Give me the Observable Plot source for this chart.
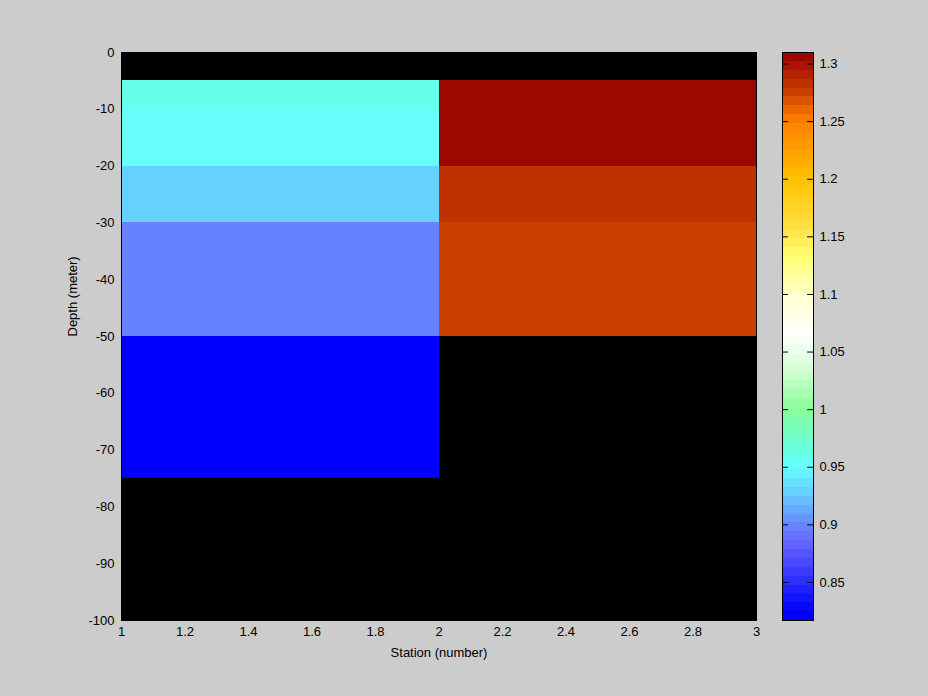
<!DOCTYPE html>
<html>
<head>
<meta charset="utf-8">
<script src="https://cdn.jsdelivr.net/npm/d3@7"></script>
<script src="https://cdn.jsdelivr.net/npm/@observablehq/plot@0.6"></script>
<style>
  html, body { margin: 0; padding: 0; background: #cccccc; }
  #wrap { position: relative; width: 928px; height: 696px; background: #cccccc; overflow: hidden; }
  #wrap > svg { position: absolute; top: 0; }
</style>
</head>
<body>
<div id="wrap"></div>
<script>
// ---- Data ----
// Station 1 (x from 1 to 2)
const st1Top = [-5, -10, -20, -30, -50];
const st1Bottom = [-10, -20, -30, -50, -75];
const st1Value = [0.962, 0.95, 0.925, 0.899, 0.82];
// Station 2 (x from 2 to 3)
const st2Top = [-5, -20, -30];
const st2Bottom = [-20, -30, -50];
const st2Value = [1.306, 1.284, 1.275];

const xTicks = [1, 1.2, 1.4, 1.6, 1.8, 2, 2.2, 2.4, 2.6, 2.8, 3];
const yTicks = [0, -10, -20, -30, -40, -50, -60, -70, -80, -90, -100];
const cbTicks = [0.85, 0.9, 0.95, 1, 1.05, 1.1, 1.15, 1.2, 1.25, 1.3];
const cMin = 0.817, cMax = 1.310;

// ---- Colormap (style) ----
const anchorVals = [0.817, 0.8245, 0.885, 0.90, 0.925, 0.95, 0.962, 1.0, 1.03, 1.065, 1.10, 1.13, 1.16, 1.20, 1.25, 1.275, 1.285, 1.31];
const anchorCols = ["#0000ff", "#0000ff", "#6666ff", "#6688ff", "#66c8ff", "#66ffff", "#66ffe6", "#88ff99", "#ccffcc", "#ffffff", "#ffffcc", "#ffff77", "#ffe040", "#ffc000", "#ff8000", "#cc4000", "#bb2e00", "#990000"];
const nBands = 64;
const interp = d3.scaleLinear().domain(anchorVals).range(anchorCols).interpolate(d3.interpolateRgb).clamp(true);
const step = (cMax - cMin) / nBands;
const bandColors = d3.range(nBands).map(i => interp(cMin + (i + 0.5) * step));
const bands = d3.range(nBands).map(i => ({lo: cMin + i * step, hi: cMin + (i + 1) * step, mid: cMin + (i + 0.5) * step}));

const cells = [
  ...st1Top.map((t, i) => ({x1: 1, x2: 2, y1: st1Bottom[i], y2: t, v: st1Value[i]})),
  ...st2Top.map((t, i) => ({x1: 2, x2: 3, y1: st2Bottom[i], y2: t, v: st2Value[i]}))
];

const font = "'Liberation Sans', Arial, Helvetica, sans-serif";
const colorOpts = {type: "quantize", domain: [cMin, cMax], range: bandColors};

const main = Plot.plot({
  width: 770, height: 696,
  marginLeft: 121, marginRight: 14, marginTop: 52, marginBottom: 76,
  style: {background: "transparent", fontFamily: font, fontSize: "13px", color: "black"},
  x: {domain: [1, 3]},
  y: {domain: [-100, 0]},
  color: colorOpts,
  marks: [
    Plot.frame({fill: "black"}),
    Plot.rect(cells, {x1: "x1", x2: "x2", y1: "y1", y2: "y2", fill: "v", shapeRendering: "crispEdges"}),
    Plot.frame({stroke: "black"}),
    Plot.axisX({ticks: xTicks, tickFormat: d => String(+d.toFixed(1)), tickSize: 0, tickPadding: 6, label: null, fontSize: 13}),
    Plot.axisY({ticks: yTicks, tickFormat: d => String(d), tickSize: 0, tickPadding: 7, label: null, fontSize: 13}),
    Plot.text(["Station (number)"], {frameAnchor: "bottom", dy: 36, fontSize: 13}),
    Plot.text(["Depth (meter)"], {frameAnchor: "left", dx: -49, rotate: -90, fontSize: 13})
  ]
});
main.style.left = "0px";

const cbar = Plot.plot({
  width: 158, height: 696,
  marginLeft: 12, marginRight: 115, marginTop: 52, marginBottom: 76,
  style: {background: "transparent", fontFamily: font, fontSize: "13px", color: "black"},
  x: {domain: [0, 1], axis: null},
  y: {domain: [cMin, cMax]},
  color: colorOpts,
  marks: [
    Plot.rect(bands, {x1: 0, x2: 1, y1: "lo", y2: "hi", fill: "mid", shapeRendering: "crispEdges"}),
    Plot.ruleY(cbTicks, {x1: 0, x2: 0.19, stroke: "black"}),
    Plot.ruleY(cbTicks, {x1: 0.81, x2: 1, stroke: "black"}),
    Plot.frame({stroke: "black"}),
    Plot.axisY({anchor: "right", ticks: cbTicks, tickFormat: d => String(d), tickSize: 0, tickPadding: 6, label: null, fontSize: 13})
  ]
});
cbar.style.left = "770px";

const wrap = document.getElementById("wrap");
wrap.appendChild(main);
wrap.appendChild(cbar);
</script>
</body>
</html>
